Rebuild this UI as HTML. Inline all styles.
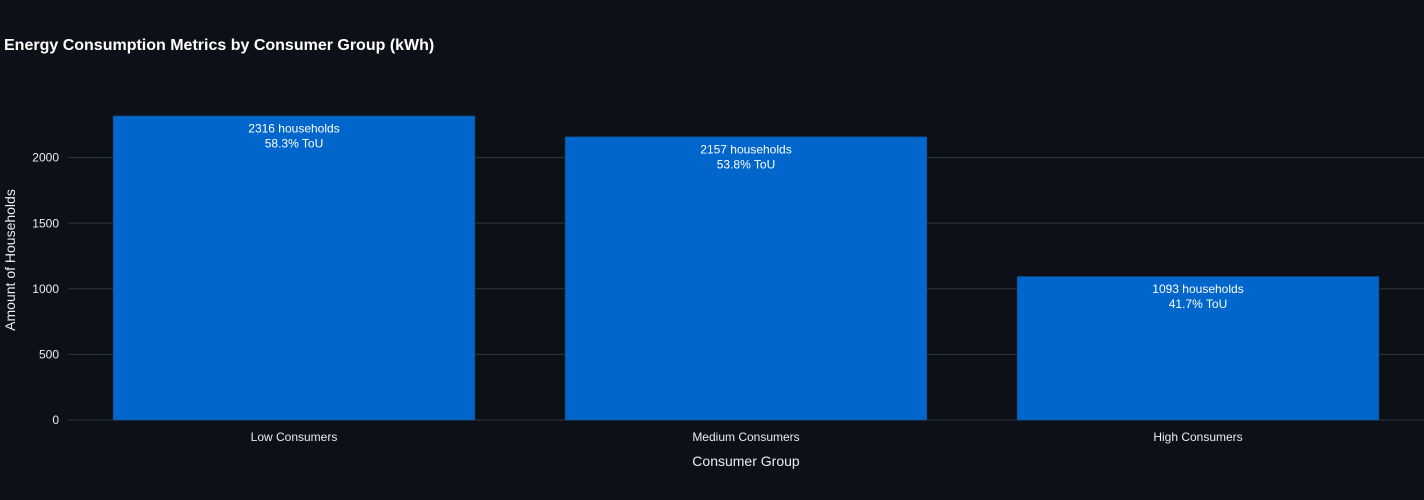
<!DOCTYPE html>
<html lang="en">
<head>
<meta charset="utf-8">
<title>Energy Consumption Metrics by Consumer Group (kWh)</title>
<style>
html,body{margin:0;padding:0;background:#0d1117;width:1424px;height:500px;overflow:hidden}
svg{display:block;font-family:"Liberation Sans",Arial,sans-serif}
</style>
</head>
<body>
<svg id="chart" width="1424" height="500" viewBox="0 0 1424 500" xmlns="http://www.w3.org/2000/svg">
<rect width="1424" height="500" fill="#0d1117"/>
<text x="4" y="50" font-size="16" font-weight="700" fill="#ffffff">Energy Consumption Metrics by Consumer Group (kWh)</text>
<text transform="translate(15,260) rotate(-90)" text-anchor="middle" font-size="14" fill="#e6edf3">Amount of Households</text>
<text x="746" y="466" text-anchor="middle" font-size="14" fill="#e6edf3">Consumer Group</text>
</svg>
<script>
const categories = ["Low Consumers", "Medium Consumers", "High Consumers"];
const households = [2316, 2157, 1093];
const touPercent = [58.3, 53.8, 41.7];
const yTicks = [0, 500, 1000, 1500, 2000];

const svg = document.getElementById('chart');
const NS = 'http://www.w3.org/2000/svg';
const plotLeft = 68, plotRight = 1424, plotTop = 100, plotBottom = 420;
const yMax = Math.max.apply(null, households) * 1.0526;

function yScale(v) {
  return plotBottom - (v / yMax) * (plotBottom - plotTop);
}
function bandWidth() {
  return (plotRight - plotLeft) / categories.length;
}
function xCenter(i) {
  return plotLeft + bandWidth() * (i + 0.5);
}
function make(tag, attrs, text) {
  const el = document.createElementNS(NS, tag);
  Object.keys(attrs).forEach(function (k) { el.setAttribute(k, attrs[k]); });
  if (text !== undefined) el.textContent = text;
  svg.appendChild(el);
  return el;
}

yTicks.forEach(function (t) {
  const y = yScale(t);
  const line = make('line', {x1: plotLeft, x2: plotRight, y1: y, y2: y, stroke: '#30363d', 'stroke-width': 1});
  
  
  const label = make('text', {x: 59, y: y + 4.2, 'text-anchor': 'end', 'font-size': 12, fill: '#e6edf3'}, String(t));
  
  
});

categories.forEach(function (c, i) {
  const w = bandWidth() * 0.8;
  const x = xCenter(i) - w / 2;
  const top = yScale(households[i]);
  const bar = make('rect', {x: x, y: top, width: w, height: plotBottom - top, fill: '#0066cc', stroke: '#0d4f94', 'stroke-width': 0.6});
  
  
  const l1 = make('text', {x: xCenter(i), y: top + 16.5, 'text-anchor': 'middle', 'font-size': 12, fill: '#ffffff'}, households[i] + ' households');
  
  
  const l2 = make('text', {x: xCenter(i), y: top + 31.5, 'text-anchor': 'middle', 'font-size': 12, fill: '#ffffff'}, touPercent[i].toFixed(1) + '% ToU');
  
  
  const cat = make('text', {x: xCenter(i), y: 441, 'text-anchor': 'middle', 'font-size': 12, fill: '#e6edf3'}, c);
  
  
});
</script>
</body>
</html>
